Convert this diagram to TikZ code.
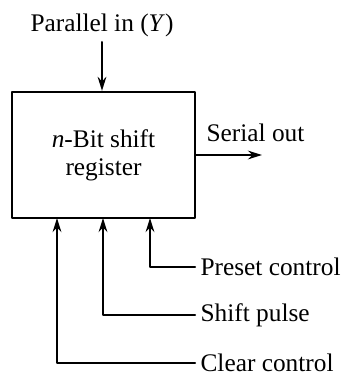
\documentclass[tikz,border=0pt]{standalone}
\usepackage{fontspec}
\setmainfont{Liberation Serif}
\usetikzlibrary{arrows.meta}

\begin{document}
\begin{tikzpicture}[x=0.75pt,y=0.75pt,>={Stealth[length=10.5pt,width=6.5pt]}, font=\fontsize{19}{21}\selectfont, line join=round, line cap=round, line width=1.7pt]
	\def\xa{57} \def\xb{103} \def\xc{150} % control inputs
	\useasboundingbox (0,0) rectangle (347,376);
	\node[draw, minimum width=137pt, minimum height=94.5pt, align=center] (reg) at (103.5,221) {\textit{n}-Bit shift\\register};
	\node (par) at (102,351) {Parallel in (\textit{Y})};
	\node[anchor=west] (out) at (201,243) {Serial out};
	\coordinate (so) at (262,221);
	\node[anchor=west] (pre) at (195,109) {Preset control};
	\node[anchor=west] (shf) at (195,61) {Shift pulse};
	\node[anchor=west] (clr) at (195,13) {Clear control};
	\coordinate (cpre) at (\xc,158);
	\coordinate (cshf) at (\xb,158);
	\coordinate (cclr) at (\xa,158);
	\draw[->] (par) -- (par|-reg.north);
	\draw[->] (reg.east) -- (so);
	\draw[->] (pre.west) -| (cpre);
	\draw[->] (shf.west) -| (cshf);
	\draw[->] (clr.west) -| (cclr);
\end{tikzpicture}
\end{document}
